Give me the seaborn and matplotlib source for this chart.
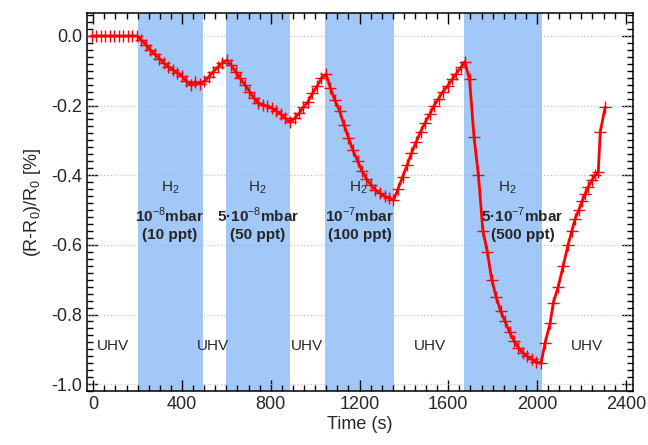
import numpy as np
import pandas as pd
import matplotlib
matplotlib.use('Agg')
import matplotlib.pyplot as plt
import seaborn as sns
from matplotlib.ticker import MultipleLocator

# Sensor response vs time
time_s = [-7, 13, 34, 54, 74, 95, 115, 135, 155, 176,
          196, 216, 237, 257, 277, 298, 318, 338, 358, 379,
          399, 419, 440, 460, 480, 501, 521, 541, 561, 582,
          602, 622, 643, 663, 683, 704, 724, 744, 764, 785,
          805, 825, 846, 866, 886, 907, 927, 947, 967, 988,
          1008, 1028, 1049, 1069, 1089, 1110, 1130, 1150, 1170, 1191,
          1211, 1231, 1252, 1272, 1292, 1313, 1333, 1353, 1373, 1394,
          1414, 1434, 1455, 1475, 1495, 1516, 1536, 1556, 1576, 1597,
          1617, 1637, 1658, 1674, 1696, 1716, 1736, 1756, 1776, 1796,
          1816, 1836, 1856, 1876, 1896, 1916, 1936, 1956, 1976, 1996,
          2018, 2036, 2059, 2073, 2095, 2118, 2140, 2157, 2172, 2188,
          2203, 2216, 2230, 2246, 2262, 2276, 2285, 2307]
response = [0.0, 0.0, 0.0, 0.0, 0.0, 0.0, 0.0, 0.0, 0.0, 0.0,
            0.0, -0.012, -0.025, -0.040, -0.052, -0.065, -0.078, -0.088, -0.097, -0.106,
            -0.115, -0.130, -0.140, -0.132, -0.138, -0.130, -0.117, -0.103, -0.090, -0.077,
            -0.070, -0.085, -0.105, -0.122, -0.140, -0.160, -0.178, -0.192, -0.198, -0.202,
            -0.207, -0.215, -0.225, -0.237, -0.247, -0.237, -0.222, -0.205, -0.190, -0.165,
            -0.145, -0.122, -0.110, -0.150, -0.185, -0.215, -0.255, -0.292, -0.328, -0.358,
            -0.388, -0.410, -0.428, -0.442, -0.452, -0.460, -0.466, -0.472, -0.440, -0.405,
            -0.372, -0.337, -0.305, -0.276, -0.250, -0.225, -0.200, -0.180, -0.160, -0.144,
            -0.125, -0.108, -0.090, -0.074, -0.125, -0.290, -0.400, -0.560, -0.620, -0.700,
            -0.750, -0.790, -0.820, -0.850, -0.875, -0.895, -0.910, -0.920, -0.928, -0.935,
            -0.940, -0.882, -0.825, -0.767, -0.721, -0.660, -0.600, -0.560, -0.525, -0.500,
            -0.475, -0.455, -0.435, -0.415, -0.400, -0.390, -0.276, -0.204]

# H2 exposure windows
band_start = [201, 598, 1044, 1671]
band_end = [494, 886, 1355, 2023]
band_pressure = ['10$^{-8}$mbar', '5·10$^{-8}$mbar', '10$^{-7}$mbar', '5·10$^{-7}$mbar']
band_ppt = ['(10 ppt)', '(50 ppt)', '(100 ppt)', '(500 ppt)']
band_h2_x = [345, 737, 1193, 1865]
band_txt_x = [345, 742, 1200, 1935]

uhv_x = [88, 539, 963, 1518, 2226]

df = pd.DataFrame({'Time (s)': time_s, 'dR': response})

sns.set_style('ticks')
plt.rcParams['font.family'] = ['Liberation Sans', 'DejaVu Sans']
plt.rcParams['mathtext.fontset'] = 'custom'
plt.rcParams['mathtext.rm'] = 'Liberation Sans'
plt.rcParams['mathtext.bf'] = 'Liberation Sans:bold'

fig = plt.figure(figsize=(6.48, 4.45), dpi=100)
ax = fig.add_axes([0.134, 0.121, 0.843, 0.850])

for s, e in zip(band_start, band_end):
    ax.axvspan(s, e, color='#a2c8f7', lw=0, zorder=0)

for yv in [0.0, -0.2, -0.4, -0.6, -0.8, -1.0]:
    ax.axhline(yv, color='#b4b4f0', lw=0.8, ls=(0, (1, 2)), zorder=1)

sns.lineplot(data=df, x='Time (s)', y='dR', ax=ax, color='red', lw=2,
             marker='+', markersize=9, zorder=3)
for ln in ax.get_lines():
    if len(ln.get_xdata()) > 10:
        ln.set_color('red')
        ln.set_markeredgecolor('#ff0000')
        ln.set_markerfacecolor('#ff0000')
        ln.set_markeredgewidth(1.0)
        ln.set_alpha(1)

for i in range(4):
    ax.text(band_h2_x[i], -0.437, 'H$_2$', ha='center', va='center', fontsize=11)
    ax.text(band_txt_x[i], -0.515, band_pressure[i], ha='center', va='center',
            fontsize=11, fontweight='bold')
    ax.text(band_txt_x[i], -0.572, band_ppt[i], ha='center', va='center',
            fontsize=11, fontweight='bold')

for x in uhv_x:
    ax.text(x, -0.89, 'UHV', ha='center', va='center', fontsize=11)

ax.set_xlim(-29, 2433)
ax.set_ylim(-1.02, 0.066)
ax.xaxis.set_major_locator(MultipleLocator(400))
ax.xaxis.set_minor_locator(MultipleLocator(50))
ax.yaxis.set_minor_locator(MultipleLocator(0.02))
ax.set_yticks([0.0, -0.2, -0.4, -0.6, -0.8, -1.0])
ax.set_yticklabels(['0.0', '-0.2', '-0.4', '-0.6', '-0.8', '-1.0'])
ax.tick_params(which='both', direction='in', top=True, right=True,
               labelsize=13, color='black', width=1)
ax.tick_params(which='major', length=8)
ax.tick_params(which='minor', length=4)
for sp in ax.spines.values():
    sp.set_linewidth(1.1)
    sp.set_color('black')

ax.set_xlabel('Time (s)', fontsize=13, labelpad=2)
ax.set_ylabel('(R-R$_0$)/R$_0$ [%]', fontsize=13, labelpad=6)

fig.savefig('out.png', dpi=100)
